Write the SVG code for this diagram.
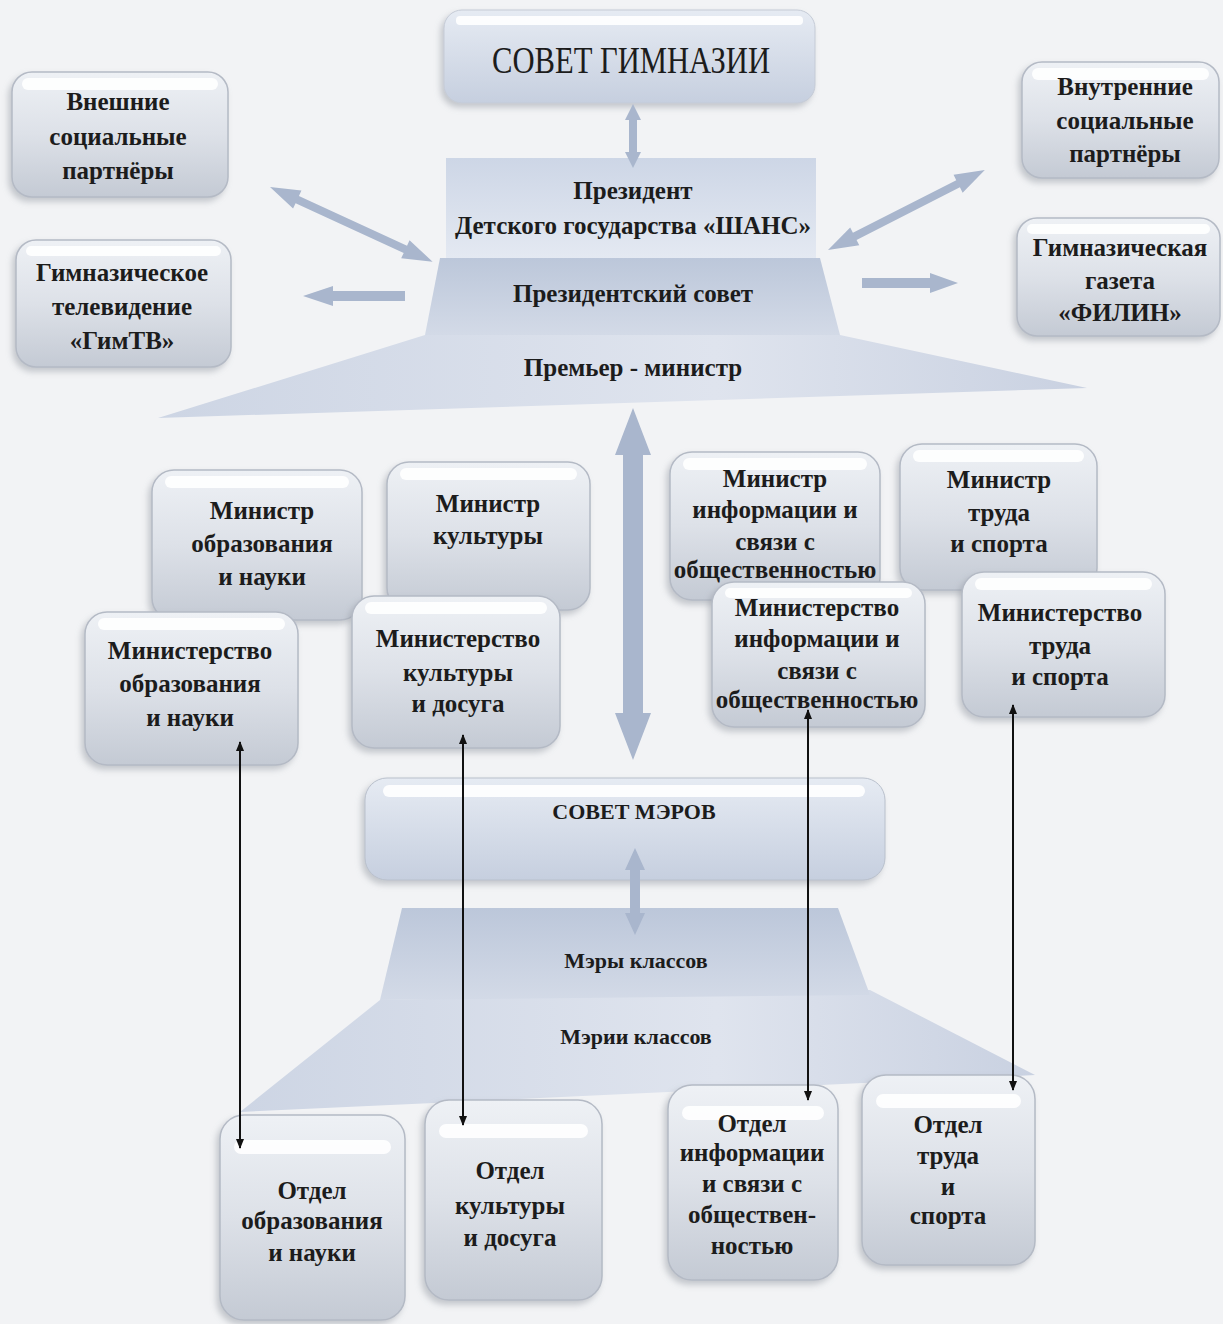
<svg xmlns="http://www.w3.org/2000/svg" width="1223" height="1324" viewBox="0 0 1223 1324">
<defs>
<linearGradient id="gBox" x1="0" y1="0" x2="0" y2="1">
<stop offset="0" stop-color="#eef1f5"/><stop offset="0.5" stop-color="#dde1e8"/><stop offset="1" stop-color="#c4cad4"/>
</linearGradient>
<linearGradient id="gBlue" x1="0" y1="0" x2="0" y2="1">
<stop offset="0" stop-color="#cdd6e6"/><stop offset="1" stop-color="#e4e9f2"/>
</linearGradient>
<linearGradient id="gBlueD" x1="0" y1="0" x2="0" y2="1">
<stop offset="0" stop-color="#bcc7da"/><stop offset="1" stop-color="#d3dae7"/>
</linearGradient>
<linearGradient id="gWide" x1="0" y1="0" x2="1" y2="0">
<stop offset="0" stop-color="#cdd5e4"/><stop offset="0.6" stop-color="#dfe4ee"/><stop offset="1" stop-color="#c9d1e1"/>
</linearGradient>
<linearGradient id="gTop" x1="0" y1="0" x2="0" y2="1">
<stop offset="0" stop-color="#e6ebf3"/><stop offset="1" stop-color="#c6cfdf"/>
</linearGradient>
<filter id="sh" x="-10%" y="-10%" width="125%" height="125%">
<feDropShadow dx="-3" dy="4" stdDeviation="3" flood-color="#8a909a" flood-opacity="0.45"/>
</filter>
<marker id="ah" markerWidth="10" markerHeight="10" refX="9" refY="5" orient="auto-start-reverse" markerUnits="userSpaceOnUse">
<path d="M0,1 L10,5 L0,9 Z" fill="#111"/>
</marker>
<style>
.box{fill:url(#gBox);stroke:#b4bac5;stroke-width:1.5;filter:url(#sh)}
.hl{fill:#ffffff;opacity:0.9}
.t{font-family:"Liberation Serif","DejaVu Serif",serif;font-size:25px;fill:#1c1c1c;text-anchor:middle;dominant-baseline:central;font-weight:bold}
.big{font-size:38px;font-weight:normal}
.sm{font-size:22px}
.ar{fill:#a9b6cd}
.cn{stroke:#111;stroke-width:2;fill:none;marker-start:url(#ah);marker-end:url(#ah)}
</style>
</defs>
<rect width="1223" height="1324" fill="#f2f3f5"/>

<!-- Trapezoid blocks -->
<g id="premier">
<polygon points="425,335 840,335 1087,388 158,418" fill="url(#gWide)"/>
<text class="t" x="633" y="367">Премьер - министр</text>
</g>
<g id="president">
<rect x="446" y="158" width="370" height="100" fill="url(#gBlue)"/>
<text class="t" x="633" y="190">Президент</text>
<text class="t" x="633" y="225">Детского государства «ШАНС»</text>
</g>
<g id="pres-council">
<polygon points="440,258 820,258 840,335 425,335" fill="url(#gBlueD)"/>
<text class="t" x="633" y="293">Президентский совет</text>
</g>
<g id="gym-council">
<rect x="444" y="10" width="371" height="93" rx="18" fill="url(#gTop)" stroke="#c5cbd6" filter="url(#sh)"/>
<rect x="456" y="16" width="347" height="9" rx="4" class="hl"/>
<text class="t big" x="631" y="60" textLength="278" lengthAdjust="spacingAndGlyphs">СОВЕТ ГИМНАЗИИ</text>
</g>

<g id="ext-partners">
<rect class="box" x="12" y="72" width="216" height="125" rx="20"/>
<rect class="hl" x="22" y="78" width="196" height="12" rx="6"/>
<text class="t" x="118" y="101">Внешние</text>
<text class="t" x="118" y="136">социальные</text>
<text class="t" x="118" y="170">партнёры</text>
</g>
<g id="gymtv">
<rect class="box" x="16" y="240" width="215" height="127" rx="20"/>
<rect class="hl" x="26" y="246" width="195" height="10" rx="5"/>
<text class="t" x="122" y="272">Гимназическое</text>
<text class="t" x="122" y="306">телевидение</text>
<text class="t" x="122" y="340">«ГимТВ»</text>
</g>
<g id="int-partners">
<rect class="box" x="1022" y="62" width="197" height="116" rx="20"/>
<rect class="hl" x="1032" y="68" width="177" height="12" rx="6"/>
<text class="t" x="1125" y="86">Внутренние</text>
<text class="t" x="1125" y="120">социальные</text>
<text class="t" x="1125" y="153">партнёры</text>
</g>
<g id="filin">
<rect class="box" x="1017" y="218" width="203" height="118" rx="20"/>
<rect class="hl" x="1027" y="224" width="183" height="10" rx="5"/>
<text class="t" x="1120" y="247">Гимназическая</text>
<text class="t" x="1120" y="280">газета</text>
<text class="t" x="1120" y="312">«ФИЛИН»</text>
</g>

<!-- Ministers (back row) -->
<g id="min-edu">
<rect class="box" x="152" y="470" width="210" height="150" rx="22"/>
<rect class="hl" x="165" y="476" width="184" height="12" rx="6"/>
<text class="t" x="262" y="510">Министр</text>
<text class="t" x="262" y="543">образования</text>
<text class="t" x="262" y="576">и науки</text>
</g>
<g id="min-cult">
<rect class="box" x="387" y="462" width="203" height="148" rx="22"/>
<rect class="hl" x="400" y="468" width="177" height="12" rx="6"/>
<text class="t" x="488" y="503">Министр</text>
<text class="t" x="488" y="535">культуры</text>
</g>
<g id="min-info">
<rect class="box" x="670" y="452" width="210" height="148" rx="22"/>
<rect class="hl" x="683" y="458" width="184" height="12" rx="6"/>
<text class="t" x="775" y="478">Министр</text>
<text class="t" x="775" y="509">информации и</text>
<text class="t" x="775" y="541">связи с</text>
<text class="t" x="775" y="569">общественностью</text>
</g>
<g id="min-labor">
<rect class="box" x="900" y="444" width="197" height="146" rx="22"/>
<rect class="hl" x="913" y="450" width="171" height="12" rx="6"/>
<text class="t" x="999" y="479">Министр</text>
<text class="t" x="999" y="512">труда</text>
<text class="t" x="999" y="543">и спорта</text>
</g>

<!-- Ministries (front row) -->
<g id="ministry-edu">
<rect class="box" x="85" y="612" width="213" height="153" rx="22"/>
<rect class="hl" x="98" y="618" width="187" height="12" rx="6"/>
<text class="t" x="190" y="650">Министерство</text>
<text class="t" x="190" y="683">образования</text>
<text class="t" x="190" y="717">и науки</text>
</g>
<g id="ministry-cult">
<rect class="box" x="352" y="596" width="208" height="152" rx="22"/>
<rect class="hl" x="365" y="602" width="182" height="12" rx="6"/>
<text class="t" x="458" y="638">Министерство</text>
<text class="t" x="458" y="672">культуры</text>
<text class="t" x="458" y="703">и досуга</text>
</g>
<g id="ministry-info">
<rect class="box" x="712" y="582" width="213" height="145" rx="22"/>
<rect class="hl" x="725" y="588" width="187" height="10" rx="5"/>
<text class="t" x="817" y="607">Министерство</text>
<text class="t" x="817" y="638">информации и</text>
<text class="t" x="817" y="670">связи с</text>
<text class="t" x="817" y="699">общественностью</text>
</g>
<g id="ministry-labor">
<rect class="box" x="962" y="572" width="203" height="145" rx="22"/>
<rect class="hl" x="975" y="578" width="177" height="12" rx="6"/>
<text class="t" x="1060" y="612">Министерство</text>
<text class="t" x="1060" y="645">труда</text>
<text class="t" x="1060" y="676">и спорта</text>
</g>

<!-- Mayors -->
<g id="mayors-council">
<rect x="365" y="778" width="520" height="102" rx="22" fill="url(#gTop)" stroke="#b9c0cc" filter="url(#sh)"/>
<rect class="hl" x="383" y="785" width="482" height="12" rx="6"/>
<text class="t sm" x="634" y="811">СОВЕТ МЭРОВ</text>
</g>
<g id="city-halls">
<polygon points="380,1000 870,990 1035,1075 240,1112" fill="url(#gWide)"/>
<text class="t sm" x="636" y="1036">Мэрии классов</text>
</g>
<g id="mayors">
<polygon points="402,908 838,908 870,995 380,1000" fill="url(#gBlueD)"/>
<text class="t sm" x="636" y="960">Мэры классов</text>
</g>

<!-- Departments -->
<g id="dept-edu">
<rect class="box" x="220" y="1115" width="185" height="205" rx="24"/>
<rect class="hl" x="234" y="1140" width="157" height="14" rx="7"/>
<text class="t" x="312" y="1190">Отдел</text>
<text class="t" x="312" y="1220">образования</text>
<text class="t" x="312" y="1252">и науки</text>
</g>
<g id="dept-cult">
<rect class="box" x="425" y="1100" width="177" height="200" rx="24"/>
<rect class="hl" x="439" y="1124" width="149" height="14" rx="7"/>
<text class="t" x="510" y="1170">Отдел</text>
<text class="t" x="510" y="1205">культуры</text>
<text class="t" x="510" y="1237">и досуга</text>
</g>
<g id="dept-info">
<rect class="box" x="668" y="1085" width="170" height="195" rx="24"/>
<rect class="hl" x="682" y="1106" width="142" height="14" rx="7"/>
<text class="t" x="752" y="1123">Отдел</text>
<text class="t" x="752" y="1152">информации</text>
<text class="t" x="752" y="1183">и связи с</text>
<text class="t" x="752" y="1214">обществен-</text>
<text class="t" x="752" y="1245">ностью</text>
</g>
<g id="dept-labor">
<rect class="box" x="862" y="1075" width="173" height="190" rx="24"/>
<rect class="hl" x="876" y="1094" width="145" height="14" rx="7"/>
<text class="t" x="948" y="1124">Отдел</text>
<text class="t" x="948" y="1155">труда</text>
<text class="t" x="948" y="1186">и</text>
<text class="t" x="948" y="1215">спорта</text>
</g>

<!-- Connectors -->
<g id="connectors">
<polygon class="ar" points="633,104 641,120 637,120 637,152 641,152 633,168 625,152 629,152 629,120 625,120"/>
<polygon class="ar" points="633,408 651,455 643,455 643,713 651,713 633,760 615,713 623,713 623,455 615,455"/>
<polygon class="ar" points="635,848 645,870 640,870 640,913 645,913 635,935 625,913 630,913 630,870 625,870"/>
<polygon class="ar" transform="translate(270,187) rotate(24.7)" points="0,0 30,-10 30,-4 149,-4 149,-10 179,0 149,10 149,4 30,4 30,10"/>
<polygon class="ar" transform="translate(828,250) rotate(-27)" points="0,0 30,-10 30,-4 146,-4 146,-10 176,0 146,10 146,4 30,4 30,10"/>
<polygon class="ar" points="303,296 333,286 333,291 405,291 405,301 333,301 333,306"/>
<polygon class="ar" points="862,278 930,278 930,273 958,283 930,293 930,288 862,288"/>
<line class="cn" x1="240" y1="742" x2="240" y2="1148"/>
<line class="cn" x1="463" y1="735" x2="463" y2="1125"/>
<line class="cn" x1="808" y1="710" x2="808" y2="1100"/>
<line class="cn" x1="1013" y1="705" x2="1013" y2="1090"/>
</g>
</svg>
